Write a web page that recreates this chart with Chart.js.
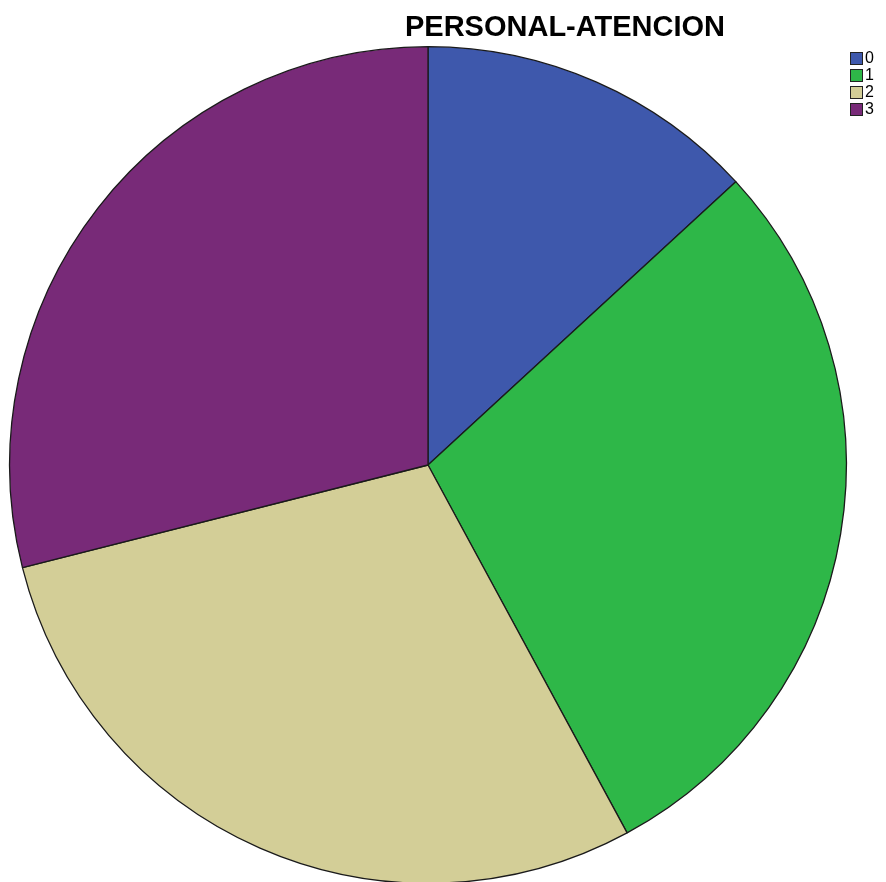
<!DOCTYPE html>
<html>
<head>
<meta charset="utf-8">
<script src="https://cdn.jsdelivr.net/npm/chart.js@4.4.1/dist/chart.umd.min.js"></script>
<style>
  html, body { margin: 0; padding: 0; background: #fff; overflow: hidden; }
  #wrap { position: relative; width: 886px; height: 886px; }
</style>
</head>
<body>
<div id="wrap"><canvas id="canvas"></canvas></div>
<script>
"use strict"

const titulo = 'PERSONAL-ATENCION';
const categorias = ['0', '1', '2', '3'];
const valores = [5, 11, 11, 11];
const colores = ['#3e58ac', '#2eb748', '#d3ce97', '#782a78'];

// titulo y leyenda dibujados a mano, al estilo de SPSS
const decoracion = {
    id: 'decoracion',
    afterDraw(chart) {
        const ctx = chart.ctx;
        ctx.save();
        ctx.fillStyle = '#000';
        ctx.font = 'bold 29px "Liberation Sans", Arial, sans-serif';
        ctx.textAlign = 'center';
        ctx.textBaseline = 'alphabetic';
        ctx.fillText(titulo, 565, 36);

        const labels = chart.data.labels;
        const bg = chart.data.datasets[0].backgroundColor;
        ctx.font = '16px "Liberation Sans", Arial, sans-serif';
        ctx.textAlign = 'left';
        ctx.textBaseline = 'middle';
        labels.forEach((lab, i) => {
            const y = 52 + i * 17;
            ctx.fillStyle = bg[i];
            ctx.fillRect(850.5, y + 0.5, 12, 12);
            ctx.strokeStyle = '#222';
            ctx.lineWidth = 1;
            ctx.strokeRect(850.5, y + 0.5, 12, 12);
            ctx.fillStyle = '#000';
            ctx.fillText(lab, 865, y + 7);
        });
        ctx.restore();
    }
};

let ctx = document.getElementById('canvas').getContext('2d');
let myChart = new Chart(ctx, {
    type: 'pie',
    data: {
        labels: categorias,
        datasets: [{
            data: valores,
            backgroundColor: colores,
            borderColor: '#1a1a1a',
            borderWidth: 1.3,
            borderAlign: 'center'
        }]
    },
    options: {
        responsive: true,
        maintainAspectRatio: false,
        animation: false,
        layout: {
            padding: { left: 9, right: 39, top: 46, bottom: 2 }
        },
        plugins: {
            legend: { display: false },
            title: { display: false },
            tooltip: { enabled: false }
        }
    },
    plugins: [decoracion]
});
</script>
</body>
</html>
